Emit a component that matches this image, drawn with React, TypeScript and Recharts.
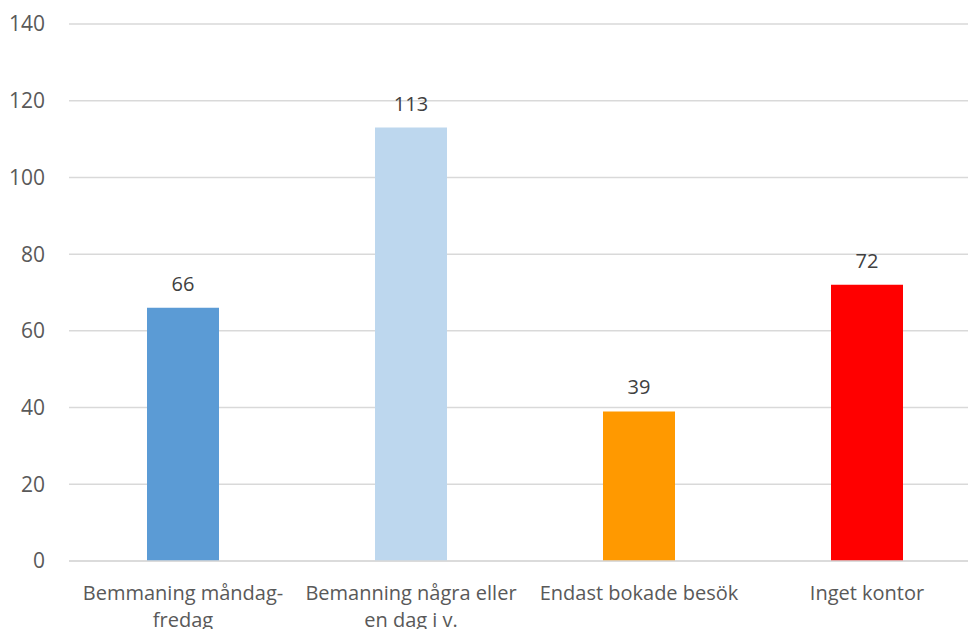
import React from "react";
import { BarChart, Bar, XAxis, YAxis, CartesianGrid, Cell, LabelList } from "recharts";

const categories = [
  "Bemmaning måndag-fredag",
  "Bemanning några eller en dag i v.",
  "Endast bokade besök",
  "Inget kontor",
];
const categoryLines = [
  ["Bemmaning måndag-", "fredag"],
  ["Bemanning några eller", "en dag i v."],
  ["Endast bokade besök"],
  ["Inget kontor"],
];
const values = [66, 113, 39, 72];
const colors = ["#5B9BD5", "#BDD7EE", "#FF9900", "#FF0000"];
const yTicks = [0, 20, 40, 60, 80, 100, 120, 140];

const data = categories.map((c, i) => ({ name: c, value: values[i], idx: i }));

const FONT = "'Open Sans', sans-serif";

const XTick = (props: any) => {
  const { x, y, payload } = props;
  const i = categories.indexOf(payload.value);
  const lines = categoryLines[i] || [payload.value];
  return (
    <g>
      {lines.map((l, k) => (
        <text
          key={k}
          x={x}
          y={y + 37 + k * 27}
          textAnchor="middle"
          fill="#595959"
          fontFamily={FONT}
          fontSize={20}
        >
          {l}
        </text>
      ))}
    </g>
  );
};

export default function App() {
  return (
    <div
      style={{
        position: "fixed",
        left: 0,
        top: 0,
        width: 968,
        height: 629,
        overflow: "hidden",
        background: "#fff",
      }}
    >
      <BarChart
        width={990}
        height={640}
        data={data}
        margin={{ top: 24, right: 9, bottom: 0, left: 0 }}
      >
        <CartesianGrid vertical={false} stroke="#D9D9D9" strokeWidth={1.5} />
        <XAxis
          dataKey="name"
          tick={<XTick />}
          tickLine={false}
          axisLine={{ stroke: "#D9D9D9", strokeWidth: 1.5 }}
          tickSize={0}
          height={79}
          interval={0}
        />
        <YAxis
          domain={[0, 140]}
          ticks={yTicks}
          width={69}
          axisLine={false}
          tickLine={false}
          tickSize={0}
          tickMargin={24}
          tick={{ fill: "#595959", fontFamily: FONT, fontSize: 21 }}
        />
        <Bar dataKey="value" barSize={72} isAnimationActive={false}>
          {data.map((d, i) => (
            <Cell key={i} fill={colors[i]} />
          ))}
          <LabelList
            dataKey="value"
            position="top"
            offset={17}
            fill="#404040"
            fontFamily={FONT}
            fontSize={20}
          />
        </Bar>
      </BarChart>
    </div>
  );
}
